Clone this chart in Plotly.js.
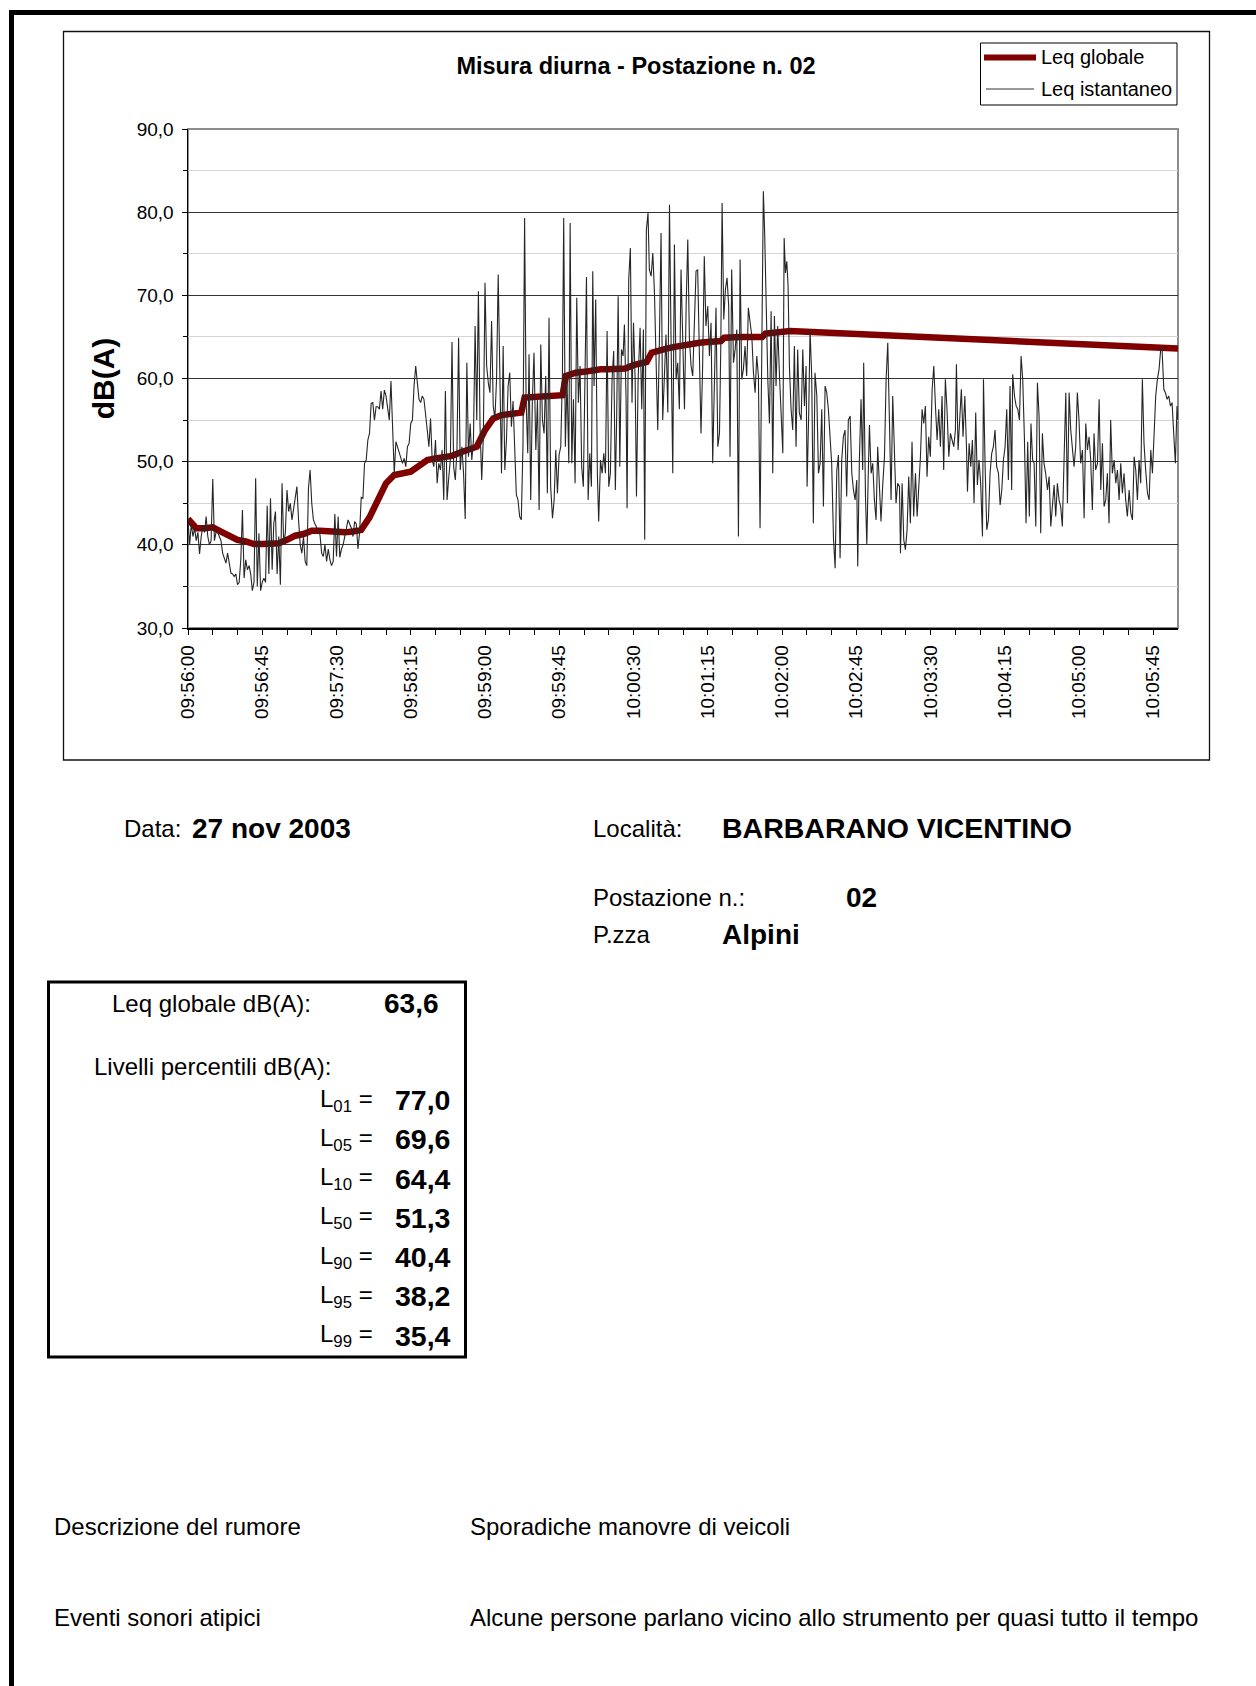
<!DOCTYPE html>
<html>
<head>
<meta charset="utf-8">
<script src="https://cdn.plot.ly/plotly-3.0.1.min.js"></script>
<style>
html,body{margin:0;padding:0;background:#fff;}
#chart{width:1256px;height:1686px;}
</style>
</head>
<body>
<div id="chart"></div>
<script>
// ---------------- DATA ----------------
const chartTitle = 'Misura diurna - Postazione n. 02';
const seriesNames = ['Leq globale', 'Leq istantaneo'];
const yTitle = 'dB(A)';

// x tick labels every 45 s (seconds from 09:56:00)
const tickLabels = ['09:56:00','09:56:45','09:57:30','09:58:15','09:59:00','09:59:45','10:00:30',
  '10:01:15','10:02:00','10:02:45','10:03:30','10:04:15','10:05:00','10:05:45'];

// Leq istantaneo, one value per second from 09:56:00 (t = 0 .. 204 s)
const leqIstA = [43.0,40.0,42.5,41.0,42.0,40.5,41.5,38.9,41.0,42.2,
41.5,43.4,41.0,40.0,40.5,47.9,40.5,41.5,41.5,41.0,
40.5,39.0,38.5,37.8,39.0,38.0,36.6,36.5,36.2,36.5,
35.2,35.5,38.2,44.2,36.0,38.2,37.0,37.5,36.5,34.5,
35.5,48.0,35.0,41.4,34.5,35.5,36.0,35.5,44.7,36.5,
45.6,37.0,42.6,44.0,36.5,41.0,35.2,47.4,40.0,41.5,
46.6,44.0,45.0,43.0,44.5,46.0,47.0,43.0,40.0,39.0,
41.0,38.0,37.5,46.8,49.0,45.0,43.0,42.5,42.0,41.5,
41.2,39.0,38.6,40.0,38.0,39.5,38.2,37.5,38.0,43.7,
38.6,43.4,38.5,39.5,40.0,41.0,42.0,43.0,42.5,42.0,
41.0,42.8,42.5,39.5,41.5,45.7,45.6,49.8,50.2,52.6,
53.4,57.0,57.1,55.0,56.6,56.6,56.3,58.5,56.3,58.6,
57.9,56.6,55.0,59.7,53.8,48.6,52.4,51.8,51.0,50.6,
49.8,50.4,49.4,51.8,52.2,54.6,55.0,59.1,61.5,59.5,
57.5,57.1,57.9,57.5,55.9,53.8,51.8,55.2,50.2,49.4,
52.6,47.4,49.8,49.0,51.4,45.4,58.5,45.4,48.0,50.2,
64.4,49.4,47.8,51.4,64.9,49.0,51.8,48.6,43.1,61.9,
50.6,54.6,50.2,52.6,66.3,55.0,70.5,54.2,47.8,53.0,
71.5,61.5,59.5,58.3,66.9,56.7,55.2,59.9,72.5,58.3,
48.6,63.9,49.0,52.6,59.1,60.7,54.2,57.3,50.2,46.0,
45.4,43.4,43.0,51.8,79.3];

// Leq istantaneo after 204 s: time (s from 09:56:00) and value
const tIstB = [204.9,205.9,206.7,207.7,208.7,209.7,210.8,211.8,212.8,213.8,
214.8,215.8,216.8,217.8,218.8,219.8,220.9,221.9,222.9,223.9,
224.9,225.9,226.9,227.7,228.7,229.7,230.8,231.6,232.6,233.6,
234.6,235.6,236.6,237.6,238.6,239.6,240.7,241.5,242.5,243.5,
244.5,245.3,246.1,247.1,248.1,248.9,250.0,251.0,252.0,253.0,
254.0,255.0,256.0,257.0,258.0,259.0,259.8,260.7,261.7,262.7,
263.7,264.5,265.5,266.1,267.1,268.1,269.1,270.0,271.0,271.8,
272.8,274.0,275.0,276.0,276.8,277.8,278.8,279.6,280.7,281.7,
282.7,283.7,284.7,285.7,286.7,287.7,288.7,289.7,290.8,291.8,
292.8,293.8,294.8,295.8,296.8,297.8,298.8,299.8,300.9,301.9,
302.9,303.9,304.9,305.9,306.9,307.9,308.9,309.9,310.9,311.9,
312.9,313.9,315.0,316.0,317.0,318.0,319.0,320.0,321.1,322.1,
322.9,323.7,324.7,325.7,326.7,327.7,328.5,329.5,330.6,331.6,
332.6,333.6,334.6,335.6,336.6,337.6,338.6,339.6,340.7,341.7,
342.7,343.7,344.7,345.7,346.7,347.7,348.7,349.5,350.4,351.4,
352.4,353.4,354.4,355.4,356.4,357.4,358.4,359.4,360.5,361.3,
362.1,362.9,363.7,364.5,365.5,366.5,367.5,368.5,369.5,370.5,
371.6,372.6,373.6,374.6,375.2,376.2,377.0,378.0,379.0,380.0,
381.1,382.1,383.1,384.1,385.1,386.1,387.1,388.1,389.1,390.1,
391.2,392.2,393.2,394.2,395.2,396.2,397.2,398.2,399.2,400.2,
401.3,402.3,403.3,404.3,405.3,405.9,406.9,407.9,408.9,409.5,
410.6,411.4,412.2,413.0,414.0,415.0,416.0,417.0,418.0,419.0,
420.0,421.1,422.1,423.1,424.1,425.1,426.1,427.1,428.1,429.1,
430.1,431.2,431.8,432.8,433.8,434.8,435.8,436.8,437.8,438.8,
439.8,440.9,441.9,442.9,443.9,444.9,445.9,446.9,447.9,448.9,
449.9,451.0,452.0,453.0,454.0,455.0,456.0,457.0,458.0,459.0,
460.0,461.1,462.1,463.1,464.1,465.1,465.7,466.7,467.7,468.7,
469.7,470.8,471.8,472.4,473.4,474.4,475.4,476.4,477.4,478.4,
479.4,480.4,481.5,482.1,483.1,484.1,485.1,486.1,487.1,488.1,
489.1,490.1,491.2,492.2,493.2,494.2,495.2,496.2,497.2,498.2,
499.2,499.8,500.9,501.9,502.9,503.9,504.9,505.9,506.9,507.9,
508.9,509.9,510.9,511.9,512.8,513.8,514.8,515.8,516.8,517.8,
518.8,519.8,520.9,521.9,522.9,523.9,524.9,525.9,526.9,527.9,
528.9,529.9,530.9,532.0,533.0,534.0,535.0,536.0,537.0,538.0,
539.0,540.0,541.0,542.1,543.1,544.1,545.1,546.1,547.1,548.1,
549.1,550.1,551.2,552.2,553.2,554.2,555.2,556.2,557.2,558.2,
559.2,560.2,561.3,562.3,563.3,564.3,565.3,566.3,567.3,568.3,
569.3,570.4,571.4,572.4,573.4,574.4,575.4,576.4,577.4,578.4,
579.4,580.4,581.5,582.5,583.5,584.5,585.5,586.5,587.5,588.5,
589.5,590.3,591.4,592.4,593.4,594.4,595.4,596.4,597.4,598.4,
599.4,600.0];
const leqIstB = [57.5,51.0,62.9,45.4,57.3,63.1,51.4,57.5,44.2,64.1,
55.0,53.4,60.3,46.2,67.3,47.0,43.2,45.4,51.4,46.2,
50.8,51.8,60.3,79.3,51.8,59.9,49.8,78.7,49.8,57.5,
47.4,69.7,57.1,61.5,49.4,47.0,60.7,72.2,45.4,51.0,
47.0,72.9,59.1,69.5,48.6,42.8,50.2,48.6,51.0,48.6,
65.7,47.0,48.6,59.9,63.3,46.6,55.4,69.9,49.4,63.5,
62.7,66.5,57.5,44.4,71.9,75.7,57.1,66.7,59.9,45.8,
59.9,66.1,56.3,65.9,40.6,77.9,79.9,73.1,72.3,75.1,
70.3,61.5,53.8,64.7,77.5,55.0,59.9,65.3,55.9,80.9,
64.1,48.6,76.1,59.9,61.9,56.3,73.1,64.3,56.3,68.7,
76.7,64.7,61.5,60.3,65.5,72.9,73.1,60.7,53.4,61.5,
74.7,66.3,68.7,62.7,66.7,49.8,57.5,68.5,51.8,53.4,
63.9,81.1,67.1,70.7,72.1,68.7,50.6,73.1,61.9,63.5,
65.9,41.0,74.3,59.9,61.1,63.9,60.3,68.5,66.7,65.1,
60.7,58.3,62.7,60.3,42.0,66.7,82.5,77.5,66.7,59.9,
54.6,68.1,48.6,67.5,59.1,66.3,60.7,55.9,51.0,76.9,
72.7,74.1,71.1,61.5,56.3,53.8,63.9,51.8,63.5,55.9,
55.0,63.5,56.7,61.5,47.0,55.9,65.9,60.3,42.6,60.7,
57.9,48.6,49.8,56.3,44.6,59.1,58.3,56.3,53.4,49.8,
40.8,37.2,48.9,50.8,38.4,50.2,53.0,53.8,45.8,55.0,
55.5,48.6,46.6,45.4,47.8,37.4,50.2,57.5,49.0,61.9,
45.8,40.0,47.8,54.4,48.6,49.8,45.4,43.0,51.8,47.0,
42.8,47.4,50.6,59.9,64.3,55.0,45.4,57.9,49.8,45.0,
47.4,47.0,39.0,47.4,40.6,39.4,41.8,48.2,42.6,52.4,
43.4,48.6,43.4,46.6,50.6,56.3,54.6,56.7,48.2,53.0,
50.6,58.7,61.5,56.7,52.6,56.3,51.8,57.9,49.0,59.9,
56.3,50.6,53.4,52.6,51.8,53.8,61.7,51.4,55.9,58.7,
53.0,57.9,51.8,46.4,52.2,49.4,52.6,45.0,55.9,47.2,
50.2,47.4,41.0,59.9,49.4,41.8,43.0,48.6,51.0,51.8,
53.8,49.4,48.6,44.8,46.6,50.2,51.8,56.3,47.8,59.1,
46.6,60.5,57.9,56.7,56.3,55.0,62.7,59.9,53.0,42.6,
52.4,43.4,54.6,50.2,49.8,42.2,59.5,55.5,41.4,53.4,
49.8,48.6,46.6,48.2,42.2,45.4,47.2,43.4,47.4,45.4,
44.6,42.2,49.8,58.3,45.0,58.3,53.8,51.8,49.4,51.8,
58.3,55.0,49.8,51.4,43.2,54.6,51.4,53.0,50.2,44.2,
53.4,49.0,49.8,57.5,46.6,52.2,44.6,45.4,48.6,42.6,
55.0,48.6,50.2,47.4,49.0,45.4,49.8,46.2,48.6,45.4,
43.4,46.6,43.8,43.0,50.6,49.0,45.4,50.2,47.4,59.9,
52.2,49.0,46.2,45.4,51.4,48.6,53.4,57.9,59.9,61.1,
63.5,63.7,58.7,58.3,57.5,57.9,56.7,57.1,53.4,49.8,
56.7,55.0];

// Leq globale (running value): time (s) and value
const tGlob = [0,5,10,15,20,25,30,35,40,45,50,55,60,65,70,75,80,85,90,95,100,105,110,115,120,125,130,135,140,145,
  150,155,160,165,170,175,180,185,190,195,200,202,204,210,215,220,225,227,229,235,240,245,250,255,260,265,270,275,
  278,281,285,290,295,300,305,310,315,320,323,325,330,335,340,345,348,350,355,360,363,365,600];
const leqGlob = [43.1,42.0,42.0,42.1,41.6,41.1,40.6,40.4,40.1,40.1,40.1,40.2,40.6,41.1,41.3,41.7,41.7,41.6,41.5,41.5,
  41.6,41.8,43.3,45.4,47.4,48.4,48.6,48.8,49.5,50.2,50.4,50.5,50.7,51.1,51.4,51.8,53.8,55.2,55.6,55.8,
  55.9,55.9,57.7,57.8,57.8,57.8,57.9,58.0,60.3,60.7,60.8,61.0,61.1,61.1,61.1,61.2,61.6,61.9,62.0,63.1,
  63.4,63.6,63.8,64.0,64.2,64.3,64.4,64.5,64.5,64.9,65.0,65.0,65.0,65.0,65.0,65.4,65.5,65.5,65.7,65.7,63.6];

// Info block
const dataLabel = 'Data:';
const dataValue = '27 nov 2003';
const localitaLabel = 'Località:';
const localitaValue = 'BARBARANO VICENTINO';
const postazioneLabel = 'Postazione n.:';
const postazioneValue = '02';
const luogoLabel = 'P.zza';
const luogoValue = 'Alpini';
const leqGlobaleLabel = 'Leq globale dB(A):';
const leqGlobaleValue = 63.6;
const percLabel = 'Livelli percentili dB(A):';
const percKeys = ['01','05','10','50','90','95','99'];
const percValues = [77.0, 69.6, 64.4, 51.3, 40.4, 38.2, 35.4];
const notesLabels = ['Descrizione del rumore', 'Eventi sonori atipici'];
const notesValues = ['Sporadiche manovre di veicoli', 'Alcune persone parlano vicino allo strumento per quasi tutto il tempo'];

// ---------------- LAYOUT ----------------
const PW = 1256, PH = 1686;
const L = 188, R = 1178, T = 129, B = 628;
const W = R - L, H = B - T;
const px = x => (x - L) / W;
const py = y => (B - y) / H;
const FONT = '"Liberation Sans", Arial, Helvetica, sans-serif';
const fmt = v => v.toFixed(1).replace('.', ',');

const tIst = leqIstA.map((v, i) => i).concat(tIstB);
const yIst = leqIstA.concat(leqIstB);

// major ticks (labelled) every 45 s, minor ticks every 15 s
const tickVals = tickLabels.map((s, i) => i * 45);
const minorVals = [];
for (let s = 15; s < 600; s += 15) { if (s % 45 !== 0) minorVals.push(s); }

const traces = [
  {x: tGlob, y: leqGlob, type: 'scatter', mode: 'lines', name: seriesNames[0],
   line: {color: '#800000', width: 6.5}, cliponaxis: false, hoverinfo: 'skip'},
  {x: tIst, y: yIst, type: 'scatter', mode: 'lines', name: seriesNames[1],
   line: {color: '#262626', width: 1.1}, hoverinfo: 'skip'}
];

function ann(text, x, y, size, opts) {
  return Object.assign({text: text, x: px(x), y: py(y), xref: 'paper', yref: 'paper',
    xanchor: 'left', yanchor: 'middle', showarrow: false,
    font: {family: FONT, size: size, color: '#000'}}, opts || {});
}

const annotations = [
  ann(seriesNames[0], 1039, 57.5, 20),
  ann(seriesNames[1], 1039, 89, 20),
  ann(dataLabel, 122, 828, 24),
  ann('<b>' + dataValue + '</b>', 190, 828, 28),
  ann(localitaLabel, 591, 828, 24),
  ann('<b>' + localitaValue + '</b>', 720, 828, 28.5),
  ann(postazioneLabel, 591, 897, 24),
  ann('<b>' + postazioneValue + '</b>', 844, 897, 28),
  ann(luogoLabel, 591, 934.5, 24),
  ann('<b>' + luogoValue + '</b>', 720, 934.5, 28),
  ann(leqGlobaleLabel, 110, 1003, 24),
  ann('<b>' + fmt(leqGlobaleValue) + '</b>', 382, 1003, 28),
  ann(percLabel, 92, 1066.5, 24),
  ann(notesLabels[0], 52, 1526, 24),
  ann(notesValues[0], 468, 1526, 24),
  ann(notesLabels[1], 52, 1617, 24),
  ann(notesValues[1], 468, 1617, 24)
];
const rowY0 = 1100, rowStep = 39.25;
percKeys.forEach((k, i) => {
  const y = rowY0 + i * rowStep;
  annotations.push(ann('L<sub>' + k + '</sub> =', 375, y, 24, {xanchor: 'right'}));
  annotations.push(ann('<b>' + fmt(percValues[i]) + '</b>', 393, y, 28.5));
});

const shapes = [
  // page border (top and left)
  {type: 'rect', xref: 'paper', yref: 'paper', x0: px(9), x1: px(1256), y0: py(10), y1: py(15),
   fillcolor: '#000', line: {width: 0}, layer: 'below'},
  {type: 'rect', xref: 'paper', yref: 'paper', x0: px(9), x1: px(14), y0: py(10), y1: py(1686),
   fillcolor: '#000', line: {width: 0}, layer: 'below'},
  // chart frame
  {type: 'rect', xref: 'paper', yref: 'paper', x0: px(63.5), x1: px(1209.5), y0: py(31.5), y1: py(760),
   line: {color: '#111', width: 1.3}, layer: 'below'},
  // plot area border
  {type: 'rect', xref: 'paper', yref: 'paper', x0: 0, x1: 1, y0: 0, y1: 1,
   line: {color: '#8c8c8c', width: 2}, layer: 'between'},
  // legend box
  {type: 'rect', xref: 'paper', yref: 'paper', x0: px(980.5), x1: px(1177), y0: py(43), y1: py(105),
   line: {color: '#000', width: 1}, fillcolor: '#fff', layer: 'above'},
  {type: 'line', xref: 'paper', yref: 'paper', x0: px(984), x1: px(1036), y0: py(57.5), y1: py(57.5),
   line: {color: '#800000', width: 6}, layer: 'above'},
  {type: 'line', xref: 'paper', yref: 'paper', x0: px(986), x1: px(1034), y0: py(89), y1: py(89),
   line: {color: '#333', width: 1}, layer: 'above'},
  // percentile box
  {type: 'rect', xref: 'paper', yref: 'paper', x0: px(48.5), x1: px(465.5), y0: py(982), y1: py(1357),
   line: {color: '#000', width: 3}, layer: 'below'}
];

const layout = {
  width: PW, height: PH,
  margin: {l: L, r: PW - R, t: T, b: PH - B, pad: 0},
  paper_bgcolor: '#fff', plot_bgcolor: '#fff',
  separators: ',.',
  font: {family: FONT, color: '#000', size: 19},
  showlegend: false,
  title: {text: '<b>' + chartTitle + '</b>', font: {family: FONT, size: 23.5, color: '#000'},
    x: 636 / PW, xanchor: 'center', y: 1 - 65.5 / PH, yanchor: 'middle', xref: 'container', yref: 'container'},
  xaxis: {
    range: [0, 600], tickmode: 'array', tickvals: tickVals, ticktext: tickLabels,
    tickangle: -90, ticks: 'outside', ticklen: 5, tickwidth: 1, tickcolor: '#000',
    minor: {tickmode: 'array', tickvals: minorVals, ticks: 'outside', ticklen: 5, tickwidth: 1,
      tickcolor: '#000', showgrid: false},
    showline: true, linecolor: '#000', linewidth: 1.5, showgrid: false, zeroline: false,
    tickfont: {family: FONT, size: 19, color: '#000'}, ticklabelstandoff: 3, automargin: false, fixedrange: true
  },
  yaxis: {
    range: [30, 90], tickmode: 'linear', tick0: 30, dtick: 10, tickformat: '.1f',
    ticks: 'outside', ticklen: 5, tickwidth: 1, tickcolor: '#000',
    showline: true, linecolor: '#000', linewidth: 1.5,
    showgrid: true, gridcolor: '#333', gridwidth: 1, zeroline: false,
    minor: {dtick: 5, tick0: 30, ticks: 'outside', ticklen: 4, tickcolor: '#000', tickwidth: 1,
      showgrid: true, gridcolor: '#d4d4d4', gridwidth: 1},
    tickfont: {family: FONT, size: 19, color: '#000'}, ticklabelstandoff: 4,
    title: {text: '<b>' + yTitle + '</b>', font: {family: FONT, size: 30, color: '#000'}, standoff: 13},
    automargin: false, fixedrange: true
  },
  shapes: shapes,
  annotations: annotations
};

Plotly.newPlot('chart', traces, layout, {staticPlot: true, displayModeBar: false});
</script>
</body>
</html>
